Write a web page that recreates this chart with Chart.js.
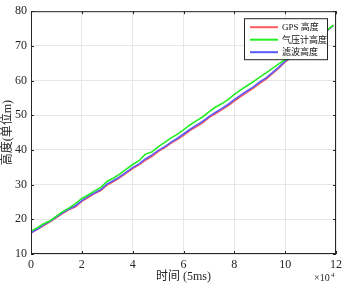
<!DOCTYPE html>
<html>
<head>
<meta charset="utf-8">
<script src="https://cdn.jsdelivr.net/npm/chart.js@4/dist/chart.umd.min.js"></script>
<style>
  html, body { margin: 0; padding: 0; background: #fff; }
  #wrap { width: 346px; height: 288px; }
</style>
</head>
<body>
<div id="wrap"><canvas id="alt-canvas" width="346" height="288"></canvas></div>
<script>
const FONT = "'Liberation Serif', 'Times New Roman', 'Noto Sans CJK SC', serif";

// time axis, unit x10^4 samples (5ms)
const times = [0, 0.25, 0.5, 0.75, 1, 1.25, 1.5, 1.75, 2, 2.25, 2.5, 2.75, 3, 3.25, 3.5, 3.75,
   4, 4.25, 4.5, 4.75, 5, 5.25, 5.5, 5.75, 6, 6.25, 6.5, 6.75, 7, 7.25, 7.5, 7.75,
   8, 8.25, 8.5, 8.75, 9, 9.25, 9.5, 9.75, 10, 10.25, 10.5, 10.75, 11, 11.25, 11.5, 11.75, 11.9];

const gpsAlt = [16.0, 17.1, 18.2, 19.3, 20.5, 21.7, 22.8, 23.6, 25.2, 26.3, 27.4, 28.3, 29.9, 30.9, 32.0, 33.3,
   34.6, 35.7, 37.0, 38.1, 39.5, 40.6, 41.9, 43.0, 44.2, 45.6, 46.7, 47.8, 49.3, 50.4, 51.6, 52.7,
   54.1, 55.4, 56.6, 57.8, 59.2, 60.4, 62.0, 63.6, 65.4, 66.7, 68.0, 69.4, 70.8, 72.2, 73.6, 75.0, 75.9];

const baroAlt = [16.6, 17.6, 18.7, 19.6, 20.9, 22.2, 23.3, 24.5, 26.0, 27.0, 28.2, 29.2, 31.0, 31.9, 33.1, 34.5,
   35.8, 36.9, 38.8, 39.4, 40.9, 42.1, 43.4, 44.5, 45.8, 47.2, 48.4, 49.5, 51.0, 52.3, 53.3, 54.5,
   56.0, 57.3, 58.5, 59.7, 61.0, 62.2, 63.5, 64.8, 66.0, 67.0, 68.2, 69.6, 71.0, 72.3, 73.7, 75.1, 76.0];

const filtAlt = [16.1, 17.2, 18.4, 19.4, 20.7, 21.9, 23.0, 23.9, 25.4, 26.6, 27.6, 28.6, 30.2, 31.2, 32.3, 33.6,
   34.9, 36.0, 37.4, 38.5, 39.8, 40.9, 42.2, 43.3, 44.6, 45.9, 47.1, 48.2, 49.6, 50.8, 51.9, 53.1,
   54.5, 55.8, 57.0, 58.2, 59.6, 60.8, 62.3, 63.9, 65.6, 66.8, 68.1, 69.5, 70.9, 72.3, 73.6, 75.0, 75.9];

const seriesNames = ['GPS 高度', '气压计高度', '滤波高度'];
const seriesColors = ['#ff5a5a', '#22ee22', '#5a5aff'];

const xTitle = '时间 (5ms)';
const yTitle = '高度(单位m)';

function pts(ys) {
   let out = new Array();
   for (let i = 0; i < times.length; i++) {
      out.push({ x: times[i], y: ys[i] });
   }
   return out;
}

// matlab style box, inward ticks, x10^4 and legend
const frame = {
   id: 'frame',
   afterDatasetsDraw(chart) {
      const c = chart.ctx;
      const a = chart.chartArea;
      const xs = chart.scales.x, ys = chart.scales.y;
      c.save();
      c.strokeStyle = '#262626';
      c.lineWidth = 1;
      c.strokeRect(a.left + 0.5, a.top + 0.5, a.right - a.left - 1, a.bottom - a.top - 1);
      c.beginPath();
      for (const t of xs.ticks) {
         const px = Math.round(xs.getPixelForValue(t.value)) + 0.5;
         c.moveTo(px, a.bottom); c.lineTo(px, a.bottom - 3);
         c.moveTo(px, a.top); c.lineTo(px, a.top + 3);
      }
      for (const t of ys.ticks) {
         const py = Math.round(ys.getPixelForValue(t.value)) + 0.5;
         c.moveTo(a.left, py); c.lineTo(a.left + 3, py);
         c.moveTo(a.right, py); c.lineTo(a.right - 3, py);
      }
      c.stroke();

      // exponent
      c.fillStyle = '#262626';
      c.font = '10px ' + FONT;
      c.textBaseline = 'alphabetic';
      c.textAlign = 'left';
      c.fillText('×10', a.right - 22, a.bottom + 27);
      c.font = '7px ' + FONT;
      c.fillText('4', a.right - 5, a.bottom + 23);

      // legend
      const bx = a.right - 92, by = a.top + 7, bw = 83, bh = 41;
      c.fillStyle = '#fff';
      c.fillRect(bx, by, bw, bh);
      c.strokeStyle = '#262626';
      c.strokeRect(bx + 0.5, by + 0.5, bw, bh);
      c.font = '9px ' + FONT;
      c.textBaseline = 'middle';
      chart.data.datasets.forEach((d, i) => {
         const ly = by + 9 + i * 12.5;
         c.strokeStyle = d.borderColor;
         c.lineWidth = 2;
         c.beginPath();
         c.moveTo(bx + 6, ly); c.lineTo(bx + 34, ly);
         c.stroke();
         c.fillStyle = '#111';
         c.fillText(d.label, bx + 38, ly + 0.5);
      });
      c.restore();
   }
};

const ctx = document.getElementById('alt-canvas').getContext('2d');
const sets = [gpsAlt, baroAlt, filtAlt].map((ys, i) => ({
   label: seriesNames[i],
   data: pts(ys),
   borderColor: seriesColors[i],
   borderWidth: 1.6,
   pointRadius: 0,
   tension: 0,
   fill: false,
   order: [3, 1, 2][i]
}));

new Chart(ctx, {
   type: 'line',
   data: { datasets: sets },
   options: {
      responsive: false,
      animation: false,
      layout: { padding: { top: 11, right: 7, left: 0, bottom: 0 } },
      plugins: { legend: { display: false }, tooltip: { enabled: false } },
      scales: {
         x: {
            type: 'linear', min: 0, max: 12,
            afterFit(s) { s.height = 34; },
            border: { display: false },
            grid: { color: '#e6e6e6', drawTicks: false },
            ticks: { stepSize: 2, padding: 4, color: '#262626', font: { family: FONT, size: 12 }, maxRotation: 0 },
            title: { display: true, text: xTitle, color: '#262626', padding: { top: 0, bottom: 4 }, font: { family: FONT, size: 12 } }
         },
         y: {
            min: 10, max: 80,
            afterFit(s) { s.width = 31; },
            border: { display: false },
            grid: { color: '#e6e6e6', drawTicks: false },
            ticks: { stepSize: 10, padding: 4, color: '#262626', font: { family: FONT, size: 12 } },
            title: { display: true, text: yTitle, color: '#262626', padding: { top: 1, bottom: 0 }, font: { family: FONT, size: 12 } }
         }
      }
   },
   plugins: [frame]
});
</script>
</body>
</html>
